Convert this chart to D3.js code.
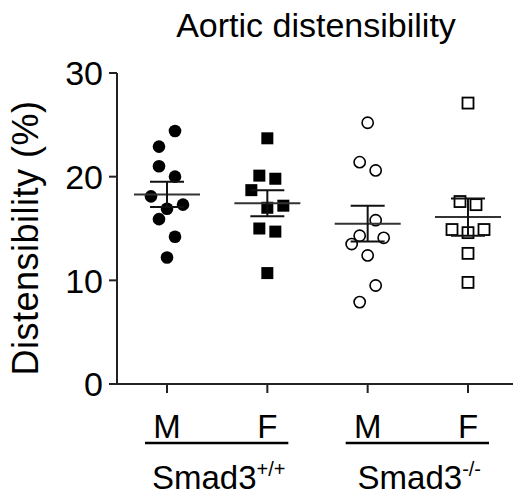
<!DOCTYPE html>
<html>
<head>
<meta charset="utf-8">
<script src="https://cdn.jsdelivr.net/npm/d3@7"></script>
<style>
  body { margin: 0; background: #fff; }
  text { font-family: "Liberation Sans", Arial, sans-serif; fill: #000; }
</style>
</head>
<body>
<svg width="513" height="499"></svg>
<script>
// columns of the scatter (genotype + sex)
var columns   = ["wtM", "wtF", "koM", "koF"];
var sexLabels = ["M", "F", "M", "F"];
var genotypes = ["Smad3", "Smad3"];
var genoSup   = ["+/+", "-/-"];
var yTicks    = [0, 10, 20, 30];

// distensibility (%) per animal
var wtM = [12.2, 14.2, 15.9, 16.9, 17.3, 18.1, 20.0, 21.0, 24.4, 22.9];
var wtF = [10.7, 14.7, 15.0, 17.0, 17.2, 18.7, 19.8, 20.1, 23.7];
var koM = [9.5, 7.9, 12.4, 14.1, 13.5, 15.8, 14.3, 20.6, 21.4, 25.2];
var koF = [9.8, 12.6, 14.6, 14.9, 14.9, 17.3, 17.6, 27.1];
var values = [wtM, wtF, koM, koF];

var symbol = ["circle", "square", "circle", "square"];
var filled = [true, true, false, false];

svg = d3.select("svg");

y = d3.scaleLinear()
		.domain([0, 30])
		.range([384, 73])
;
x = d3.scalePoint()
		.domain(columns)
		.range([167, 468])
;

var slotW = 16,      // horizontal spacing of overlapping points
    rowGap = 1.8;    // values closer than this share a row

// title
svg.append("text")
		.attr("x", 316)
		.attr("y", 37)
		.attr("text-anchor", "middle")
		.style("font-size", "34px")
		.text("Aortic distensibility")
;

// y label
svg.append("text")
		.attr("transform", "translate(38,238) rotate(-90)")
		.attr("text-anchor", "middle")
		.style("font-size", "36px")
		.style("letter-spacing", "0.5px")
		.text("Distensibility (%)")
;

drawAsisY();
drawAsisX();

columns.forEach(function(col, i) {
	var pts = layoutColumn(values[i]);
	var g = svg.append("g").attr("class", "col " + col);

	pts.forEach(function(p) {
		var cx = x(col) + p.slot * slotW,
		    cy = y(p.v);
		if (symbol[i] == "circle") {
			g.append("circle")
					.attr("cx", cx)
					.attr("cy", cy)
					.attr("r", filled[i] ? 6.3 : 5.6)
					.attr("fill", filled[i] ? "#000" : "none")
					.attr("stroke", "#000")
					.attr("stroke-width", filled[i] ? 0 : 1.6)
			;
		} else {
			var s = filled[i] ? 12 : 11;
			g.append("rect")
					.attr("x", cx - s / 2)
					.attr("y", cy - s / 2)
					.attr("width", s)
					.attr("height", s)
					.attr("fill", filled[i] ? "#000" : "none")
					.attr("stroke", "#000")
					.attr("stroke-width", filled[i] ? 0 : 1.8)
			;
		}
	});

	// mean +/- SEM
	var m = d3.mean(values[i]),
	    sem = d3.deviation(values[i]) / Math.sqrt(values[i].length),
	    cx = x(col);
	var line = d3.line().x(function(d) { return d[0]; }).y(function(d) { return d[1]; });
	g.append("path")
			.attr("d", line([[cx - 33, y(m)], [cx + 33, y(m)]]))
			.attr("stroke", "#333")
			.attr("stroke-width", 2)
	;
	g.append("path")
			.attr("d", line([[cx, y(m + sem)], [cx, y(m - sem)]]))
			.attr("stroke", "#111")
			.attr("stroke-width", 2)
	;
	[m + sem, m - sem].forEach(function(v) {
		g.append("path")
				.attr("d", line([[cx - 17, y(v)], [cx + 17, y(v)]]))
				.attr("stroke", "#111")
				.attr("stroke-width", 2)
		;
	});
});

// sex labels, underline and genotype under each pair of columns
columns.forEach(function(col, i) {
	svg.append("text")
			.attr("x", x(col))
			.attr("y", 438)
			.attr("text-anchor", "middle")
			.style("font-size", "33px")
			.text(sexLabels[i])
	;
});
genotypes.forEach(function(name, k) {
	var x1 = x(columns[2 * k]) - 22,
	    x2 = x(columns[2 * k + 1]) + 21;
	svg.append("line")
			.attr("x1", x1).attr("x2", x2)
			.attr("y1", 443).attr("y2", 443)
			.attr("stroke", "#000")
			.attr("stroke-width", 2.5)
	;
	var t = svg.append("text")
			.attr("x", (x1 + x2) / 2 + 2)
			.attr("y", 489)
			.attr("text-anchor", "middle")
			.style("font-size", "33px")
	;
	t.append("tspan").text(name);
	t.append("tspan")
			.attr("dy", -13)
			.style("font-size", "20px")
			.text(genoSup[k])
	;
});

function layoutColumn(vals) {
	// rows are built from the lowest value upward; inside a row points alternate around the centre
	var order = vals.map(function(v, i) { return { v: v, i: i }; })
					.sort(function(a, b) { return a.v - b.v || a.i - b.i; });
	var rows = [], cur = null;
	order.forEach(function(p) {
		if (cur && p.v - cur.start <= rowGap + 1e-9) cur.pts.push(p);
		else { cur = { start: p.v, pts: [p] }; rows.push(cur); }
	});
	var out = [];
	rows.forEach(function(r) {
		var n = r.pts.length;
		r.pts.sort(function(a, b) { return a.i - b.i; });
		r.pts.forEach(function(p, k) {
			var s;
			if (n % 2 == 1) s = k == 0 ? 0 : (k % 2 == 1 ? Math.ceil(k / 2) : -k / 2);
			else s = k % 2 == 0 ? (k / 2 + 0.5) : -((k - 1) / 2 + 0.5);
			out.push({ v: p.v, slot: s });
		});
	});
	return out;
}

function drawAsisY() {
	var g = svg.append("g")
				.attr("class", "asisY")
				.attr("transform", "translate(117,0)")
	;
	g.append("line")
			.attr("y1", y(30)).attr("y2", y(0))
			.attr("stroke", "#222").attr("stroke-width", 2)
	;
	yTicks.forEach(function(t) {
		g.append("line")
				.attr("x1", -8).attr("x2", 0)
				.attr("y1", y(t)).attr("y2", y(t))
				.attr("stroke", "#222").attr("stroke-width", 2)
		;
		g.append("text")
				.attr("x", -14)
				.attr("y", y(t))
				.attr("dy", "0.36em")
				.attr("text-anchor", "end")
				.style("font-size", "34px")
				.text(t)
		;
	});
}

function drawAsisX() {
	var g = svg.append("g")
				.attr("class", "asisX")
				.attr("transform", "translate(0," + y(0) + ")")
	;
	g.append("line")
			.attr("x1", 116).attr("x2", 513)
			.attr("stroke", "#222").attr("stroke-width", 2)
	;
	columns.forEach(function(col) {
		g.append("line")
				.attr("x1", x(col)).attr("x2", x(col))
				.attr("y1", 0).attr("y2", 9)
				.attr("stroke", "#222").attr("stroke-width", 2)
		;
	});
}
</script>
</body>
</html>
